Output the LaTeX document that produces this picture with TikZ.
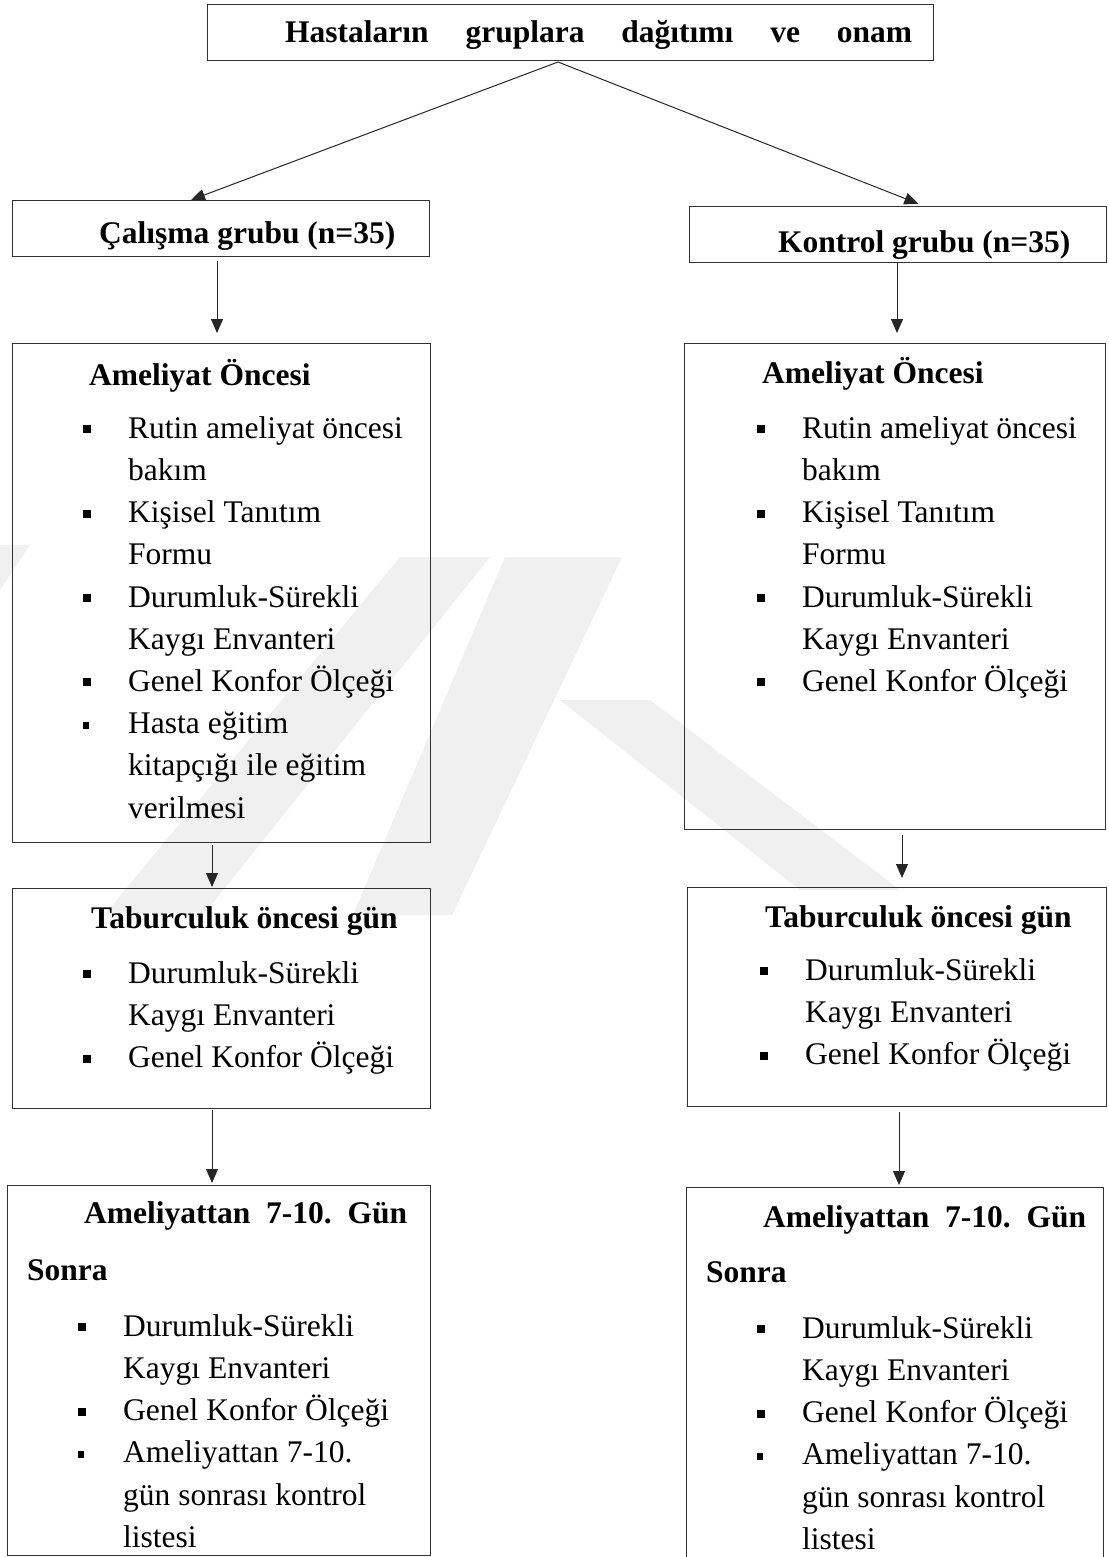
\documentclass[tikz,border=0pt]{standalone}
\usepackage{fontspec}
\setmainfont{Liberation Serif}
\usepackage{tikz}
\usetikzlibrary{arrows.meta}

\newcommand{\boyut}{\fontsize{31.5}{42.2}\selectfont\frenchspacing}
\newcommand{\bas}{\noindent\spaceskip=0pt\relax\xspaceskip=0pt\relax\strut}
\newcommand{\kare}{\makebox[45pt][l]{\rule[5pt]{7.5pt}{8pt}}}
\newcommand{\ufakkare}{\makebox[45pt][l]{\rule[5pt]{6pt}{6.5pt}}}
\newcommand{\girinti}{\hspace*{45pt}}

\tikzset{
  kutu/.style={draw=black!80, line width=1.2pt, rectangle, anchor=north west, inner sep=0pt},
  ok/.style={draw=black!85, line width=1pt, -{Triangle[width=12pt,length=14pt]}},
  baslik/.style={anchor=base west, inner sep=0pt, font=\boyut\bfseries},
  liste/.style={anchor=north west, inner sep=0pt, text width=345pt, align=left, font=\boyut},
  filigran/.style={fill=black!6, draw=none}
}

\begin{document}
\begin{tikzpicture}[x=1pt, y=-1pt]
			%%Location
			\fill[white] (0,0) rectangle (1108,1557);
			\useasboundingbox (0,0) rectangle (1108,1557);

			%%Filigran
			\fill[filigran] (0,545) -- (30,545) -- (0,590) -- cycle;
			\fill[filigran] (106,913) -- (205,913) -- (490,557) -- (400,557) -- cycle;
			\fill[filigran] (353,915) -- (452,915) -- (622,557) -- (505,557) -- cycle;
			\fill[filigran] (560,700) -- (650,700) -- (900,890) -- (800,890) -- cycle;

			%%Kutular
			\node[kutu, minimum width=726pt, minimum height=56pt] (ust) at (207,4) {};
			\node[kutu, minimum width=417pt, minimum height=56pt] (calisma) at (12,200) {};
			\node[kutu, minimum width=417pt, minimum height=56pt] (kontrol) at (689,206) {};
			\node[kutu, minimum width=418pt, minimum height=499pt] (oncesiA) at (12,343) {};
			\node[kutu, minimum width=421pt, minimum height=486pt] (oncesiB) at (684,343) {};
			\node[kutu, minimum width=418pt, minimum height=220pt] (taburcuA) at (12,888) {};
			\node[kutu, minimum width=419pt, minimum height=219pt] (taburcuB) at (687,887) {};
			\node[kutu, minimum width=423pt, minimum height=370pt] (sonraA) at (7,1185) {};
			\node[kutu, minimum width=417pt, minimum height=390pt] (sonraB) at (686,1187) {};

			%%Basliklar
			\node[baslik] (ustyazi) at (285,43) {\makebox[627pt][s]{Hastaların gruplara dağıtımı ve onam}};
			\node[baslik] (calismayazi) at (99,243) {Çalışma grubu (n=35)};
			\node[baslik] (kontrolyazi) at (778,252) {Kontrol grubu (n=35)};
			\node[baslik] (oncesiAyazi) at (89,385) {Ameliyat Öncesi};
			\node[baslik] (oncesiByazi) at (762,383) {Ameliyat Öncesi};
			\node[baslik] (taburcuAyazi) at (91,928) {Taburculuk öncesi gün};
			\node[baslik] (taburcuByazi) at (765,927) {Taburculuk öncesi gün};
			\node[baslik] (sonraAyazi) at (84,1223) {\makebox[323pt][s]{Ameliyattan 7-10. Gün}};
			\node[baslik] (sonraAek) at (27,1280) {Sonra};
			\node[baslik] (sonraByazi) at (763,1227) {\makebox[323pt][s]{Ameliyattan 7-10. Gün}};
			\node[baslik] (sonraBek) at (706,1282) {Sonra};

			%%Listeler
			\node[liste] (oncesiAliste) at (83,408.46) {\bas\kare Rutin ameliyat öncesi\\
			    \girinti bakım\\ \kare Kişisel Tanıtım\\ \girinti Formu\\
			    \kare Durumluk-Sürekli\\ \girinti Kaygı Envanteri\\ \kare Genel Konfor Ölçeği\\
			    \ufakkare Hasta eğitim\\ \girinti kitapçığı ile eğitim\\ \girinti verilmesi};
			\node[liste] (oncesiBliste) at (757,408.46) {\bas\kare Rutin ameliyat öncesi\\
			    \girinti bakım\\ \kare Kişisel Tanıtım\\ \girinti Formu\\
			    \kare Durumluk-Sürekli\\ \girinti Kaygı Envanteri\\ \kare Genel Konfor Ölçeği};
			\node[liste] (taburcuAliste) at (83,953.46) {\bas\kare Durumluk-Sürekli\\
			    \girinti Kaygı Envanteri\\ \kare Genel Konfor Ölçeği};
			\node[liste] (taburcuBliste) at (760,950.46) {\bas\kare Durumluk-Sürekli\\
			    \girinti Kaygı Envanteri\\ \kare Genel Konfor Ölçeği};
			\node[liste] (sonraAliste) at (78,1306.46) {\bas\kare Durumluk-Sürekli\\
			    \girinti Kaygı Envanteri\\ \kare Genel Konfor Ölçeği\\
			    \ufakkare Ameliyattan 7-10.\\ \girinti gün sonrası kontrol\\ \girinti listesi};
			\node[liste] (sonraBliste) at (757,1308.46) {\bas\kare Durumluk-Sürekli\\
			    \girinti Kaygı Envanteri\\ \kare Genel Konfor Ölçeği\\
			    \ufakkare Ameliyattan 7-10.\\ \girinti gün sonrası kontrol\\ \girinti listesi};

			%%Oklar
			\coordinate (ayrim) at (558,62);
			\draw[ok] (ayrim) -- (calisma.north -| 191,0);
			\draw[ok, shorten >=6pt] (ayrim) -- (kontrol.north -| 924,0);
			\draw[ok, shorten <=4pt, shorten >=10pt] (calisma.south -| 217,0) -- (oncesiA.north -| 217,0);
			\draw[ok, shorten <=2pt, shorten >=1pt] (oncesiA.south -| 212,0) -- (taburcuA.north -| 212,0);
			\draw[ok, shorten <=1pt, shorten >=2pt] (taburcuA.south -| 212,0) -- (sonraA.north -| 212,0);
			\draw[ok, shorten >=10pt] (kontrol.south -| 897,0) -- (oncesiB.north -| 897,0);
			\draw[ok, shorten <=5pt, shorten >=9pt] (oncesiB.south -| 902,0) -- (taburcuB.north -| 902,0);
			\draw[ok, shorten <=5pt, shorten >=2pt] (taburcuB.south -| 899,0) -- (sonraB.north -| 899,0);
		\end{tikzpicture}
\end{document}
